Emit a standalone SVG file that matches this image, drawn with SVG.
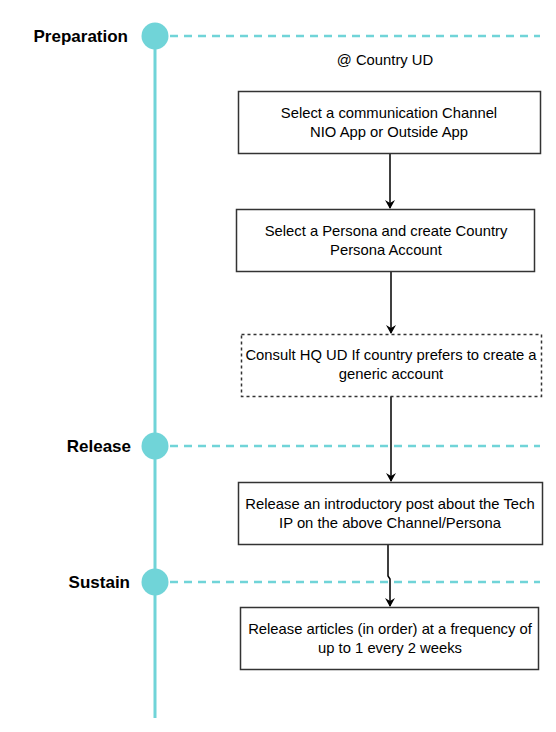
<svg xmlns="http://www.w3.org/2000/svg" width="556" height="732" viewBox="0 0 556 732">
<defs>
<marker id="arr" markerWidth="10" markerHeight="10" refX="8" refY="5" orient="auto" markerUnits="userSpaceOnUse">
<path d="M0,0 L9,5 L0,10 L3,5 Z" fill="#000"/>
</marker>
<style>
.phase{font-family:"Liberation Sans",Arial,sans-serif;font-size:17px;font-weight:bold;fill:#000}
.txt{font-family:"Liberation Sans",Arial,sans-serif;font-size:14.8px;fill:#000}
.box{fill:#fff;stroke:#333;stroke-width:1.5}
.dbox{fill:#fff;stroke:#333;stroke-width:1.5;stroke-dasharray:3 3}
.tl{stroke:#70d4d8;stroke-width:3;fill:none}
.dash{stroke:#70d4d8;stroke-width:2.5;stroke-dasharray:8 6;fill:none}
.dot{fill:#70d4d8}
.edge{stroke:#000;stroke-width:1.5;fill:none}
</style>
</defs>
<rect width="556" height="732" fill="#fff"/>
<g id="timeline">
<line class="tl" x1="155" y1="36" x2="155" y2="718"/>
</g>
<g id="preparation">
<line class="dash" x1="170" y1="36" x2="540" y2="36"/>
<circle class="dot" cx="155" cy="36" r="13.5"/>
<text class="phase" x="128" y="42" text-anchor="end">Preparation</text>
</g>
<g id="release">
<line class="dash" x1="170" y1="446" x2="540" y2="446"/>
<circle class="dot" cx="155" cy="446" r="13.5"/>
<text class="phase" x="131" y="452" text-anchor="end">Release</text>
</g>
<g id="sustain">
<line class="dash" x1="170" y1="582" x2="540" y2="582"/>
<circle class="dot" cx="155" cy="582" r="13.5"/>
<text class="phase" x="130" y="588" text-anchor="end">Sustain</text>
</g>
<g id="country-ud">
<text class="txt" x="385" y="65" text-anchor="middle">@ Country UD</text>
</g>
<g id="connectors">
<line class="edge" x1="390" y1="153" x2="390" y2="208" marker-end="url(#arr)"/>
<line class="edge" x1="391" y1="272" x2="391" y2="333" marker-end="url(#arr)"/>
<line class="edge" x1="391" y1="396" x2="391" y2="481" marker-end="url(#arr)"/>
<polyline class="edge" points="388,545 388,576 390,579 390,606" marker-end="url(#arr)"/>
</g>
<g id="n1">
<rect class="box" x="238.5" y="91.5" width="302" height="62"/>
<text class="txt" x="389" y="118" text-anchor="middle">Select a communication Channel</text>
<text class="txt" x="389" y="137" text-anchor="middle">NIO App or Outside App</text>
</g>
<g id="n2">
<rect class="box" x="236.5" y="209.5" width="298" height="62"/>
<text class="txt" x="386" y="236" text-anchor="middle">Select a Persona and create Country</text>
<text class="txt" x="386" y="255" text-anchor="middle">Persona Account</text>
</g>
<g id="n3">
<rect class="dbox" x="241.5" y="334.5" width="300" height="62"/>
<text class="txt" x="391" y="360" text-anchor="middle">Consult HQ UD If country prefers to create a</text>
<text class="txt" x="391" y="379" text-anchor="middle">generic account</text>
</g>
<g id="n4">
<rect class="box" x="238.5" y="482.5" width="304" height="62"/>
<text class="txt" x="390" y="509" text-anchor="middle">Release an introductory post about the Tech</text>
<text class="txt" x="390" y="528" text-anchor="middle">IP on the above Channel/Persona</text>
</g>
<g id="n5">
<rect class="box" x="240.5" y="607.5" width="298" height="62"/>
<text class="txt" x="390" y="634" text-anchor="middle">Release articles (in order) at a frequency of</text>
<text class="txt" x="390" y="653" text-anchor="middle">up to 1 every 2 weeks</text>
</g>
</svg>
